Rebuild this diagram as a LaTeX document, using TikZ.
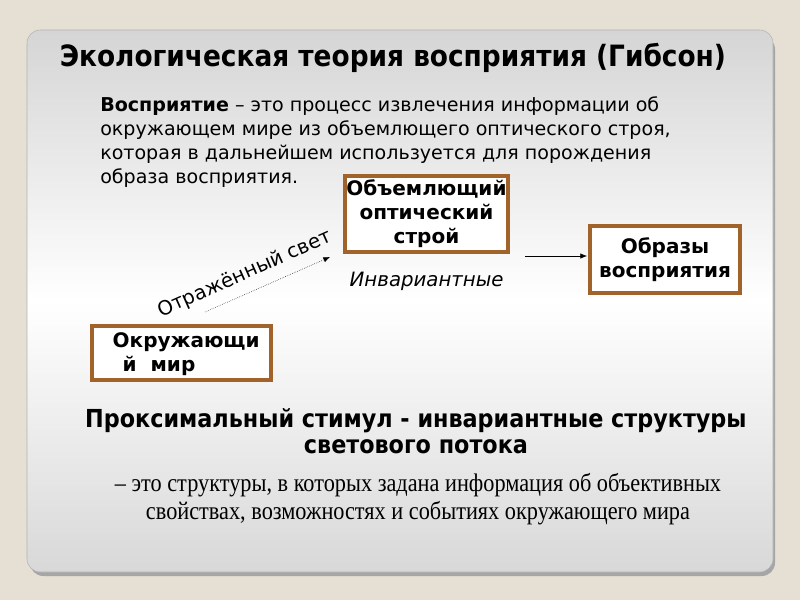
\documentclass[tikz,border=0pt]{standalone}
\usepackage{fontspec}
\setmainfont{DejaVu Sans}
\newfontfamily\condfont{DejaVu Sans Condensed}
\newfontfamily\narrowserif{Liberation Serif}[FakeStretch=0.88]
\usetikzlibrary{positioning}
\usetikzlibrary{arrows.meta}
\definecolor{pagebg}{HTML}{E6DFD3}
\definecolor{boxbrown}{HTML}{A2632B}
\definecolor{paneltop}{HTML}{D5D5D5}
\definecolor{panelbot}{HTML}{D8D8D8}

\begin{document}
\begin{tikzpicture}
    [
      x=0.75pt, y=-0.75pt,
      frame/.style = {draw=boxbrown, line width=3pt, fill=white, inner sep=0pt},
      boxtext/.style = {align=center, font=\bfseries\fontsize{15}{18}\selectfont},
      headline/.style = {align=center, font=\condfont\bfseries\fontsize{18.6}{19}\selectfont},
      ray/.style = {-{Latex[length=5pt,width=4pt]}},
    ]

    \useasboundingbox (0,0) rectangle (800,600);
    \fill[pagebg] (0,0) rectangle (800,600);

    \fill[gray!70, rounded corners=10pt] (30,36) rectangle (775,576);
    \shade[top color=paneltop, bottom color=panelbot, middle color=white,
      rounded corners=10pt, draw=gray!60] (27,30) rectangle (773,572);

    \node[font=\condfont\bfseries\fontsize{22}{24}\selectfont, anchor=base] (title) at (393,66)
      {Экологическая теория восприятия (Гибсон)};

    \node[anchor=base west, align=left, inner sep=0pt, font=\fontsize{14.3}{18}\selectfont] (definition) at (100,183)
      {\textbf{Восприятие} – это процесс извлечения информации об\\
       окружающем мире из объемлющего оптического строя,\\
       которая в дальнейшем используется для порождения\\
       образа восприятия.};

    \node[frame, minimum width=122pt, minimum height=57pt] (array) at (426.5,214) {};
    \node[boxtext] at (array) {Объемлющий\\оптический\\строй};

    \node[frame, minimum width=112.5pt, minimum height=50pt] (images) at (665,259.5) {};
    \node[boxtext] at (images) {Образы\\восприятия};

    \node[frame, minimum width=134pt, minimum height=40.5pt] (world) at (181.5,353) {};
    \node[boxtext, align=left, anchor=west] at (108,354) {Окружающи\\\hspace{0.5em}й\ \ мир};

    \node[anchor=base west, font=\itshape\fontsize{14.8}{16}\selectfont] (invariant) at (345,286) {Инвариантные};

    \coordinate (ray start) at (205,312);
    \coordinate (ray end) at (330,257);
    \draw[ray, densely dotted, thin] (ray start) -- (ray end);
    \node[rotate=24, anchor=base, font=\fontsize{14.8}{16}\selectfont] (reflected) at (247,279) {Отражённый свет};

    \coordinate (flow start) at (525,256);
    \coordinate (flow end) at (587,256);
    \draw[ray, thin] (flow start) -- (flow end);

    \node[headline, anchor=base] (proximal) at (416,453)
      {Проксимальный стимул - инвариантные структуры\\светового потока};

    \node[anchor=base, align=center, font=\narrowserif\fontsize{19}{20.5}\selectfont] (structures) at (418,519)
      {– это структуры, в которых задана информация об объективных\\
       свойствах, возможностях и событиях окружающего мира};

  \end{tikzpicture}
\end{document}
